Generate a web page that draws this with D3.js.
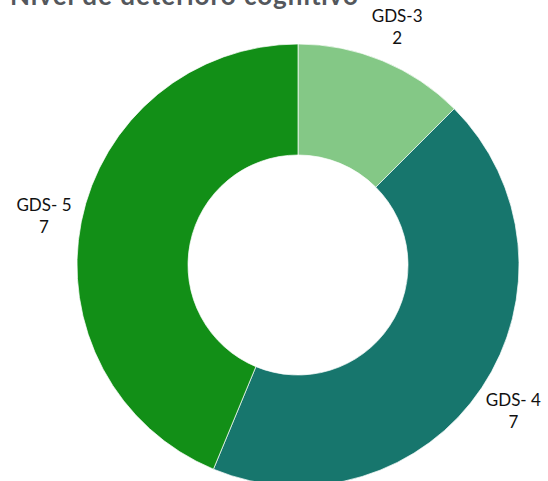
<!DOCTYPE html>
<html>
<head>
<meta charset="utf-8">
<script src="https://cdn.jsdelivr.net/npm/d3@7"></script>
<style>
  body { margin: 0; background: #fff; }
  svg { display: block; }
</style>
</head>
<body>
<div id="chart"></div>
<script>
// Datos
const categorias = ['GDS-3', 'GDS- 4', 'GDS- 5'];
const valores = [2, 7, 7];
const colores = ['#84c886', '#17766d', '#128f17'];
const titulo = 'Nivel de deterioro cognitivo';

let width = 548, height = 481;
let cx = 298, cy = 265, outerR = 221, innerR = 110, labelR = 259;

let svg = d3.select('#chart')
    .append('svg')
    .attr('width', width)
    .attr('height', height);

svg.append('text')
    .attr('x', 10)
    .attr('y', 5)
    .attr('fill', '#54575c')
    .style('font-family', 'Lato')
    .style('font-weight', 'bold')
    .style('font-size', '26px')
    .attr('textLength', 348)
    .attr('lengthAdjust', 'spacing')
    .text(titulo);

let data = categorias.map((c, i) => ({ cat: c, val: valores[i], color: colores[i] }));

let pie = d3.pie().sort(null).value(d => d.val);
let arc = d3.arc().innerRadius(innerR).outerRadius(outerR);
let labelArc = d3.arc().innerRadius(labelR).outerRadius(labelR);

let g = svg.append('g').attr('transform', 'translate(' + cx + ',' + cy + ')');

let arcs = pie(data);

g.selectAll('path')
    .data(arcs)
    .enter()
    .append('path')
    .attr('d', arc)
    .attr('fill', d => d.data.color)
    .attr('stroke', '#ffffff')
    .attr('stroke-width', 0.7);

let labels = g.selectAll('.label')
    .data(arcs)
    .enter()
    .append('text')
    .attr('class', 'label')
    .attr('transform', d => 'translate(' + labelArc.centroid(d) + ')')
    .attr('text-anchor', 'middle')
    .style('font-family', 'Lato')
    .style('font-size', '17px')
    .attr('fill', '#111');

labels.append('tspan')
    .attr('x', 0)
    .attr('dy', '-0.2em')
    .text(d => d.data.cat);

labels.append('tspan')
    .attr('x', 0)
    .attr('dy', '1.3em')
    .text(d => d.data.val);
</script>
</body>
</html>
